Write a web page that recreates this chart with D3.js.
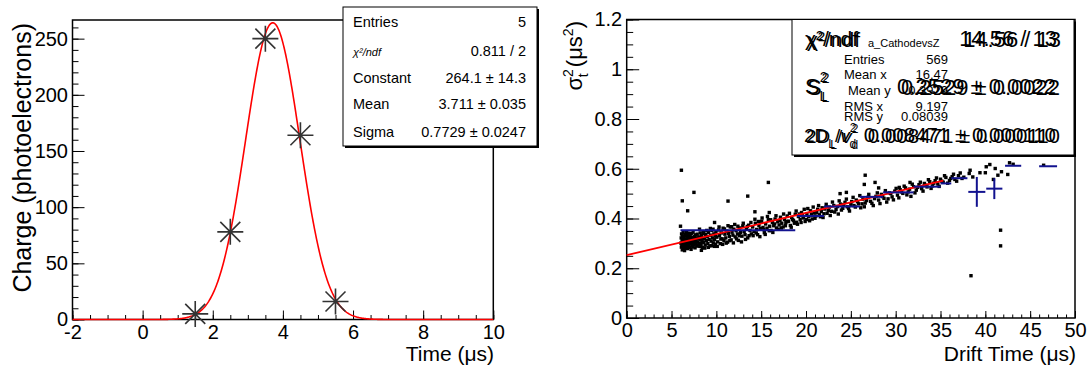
<!DOCTYPE html>
<html>
<head>
<meta charset="utf-8">
<script src="https://cdn.jsdelivr.net/npm/d3@7"></script>
<style>
  body { margin: 0; background: #fff; }
  svg { font-family: "Liberation Sans", Arial, Helvetica, sans-serif; }
</style>
</head>
<body>
<svg id="chart" width="1089" height="372"></svg>
<script>
// left pad: collected charge per time slice
var pulseTime = [1.5, 2.5, 3.5, 4.5, 5.5];
var pulseCharge = [5, 78, 250, 164, 16];
var gausConstant = 264.1, gausMean = 3.711, gausSigma = 0.7729;
var leftXTicks = [-2, 0, 2, 4, 6, 8, 10];
var leftYTicks = [0, 50, 100, 150, 200, 250];
var leftStatLabels = ['Entries', 'χ²/ndf', 'Constant', 'Mean', 'Sigma'];
var leftStatValues = ['5', '0.811 / 2', '264.1 ± 14.3', '3.711 ± 0.035', '0.7729 ± 0.0247'];

// right pad: width squared vs drift time
var driftPts = [
  [6.05,0.301],[6.08,0.322],[6.1,0.285],[6.12,0.338],[6.15,0.296],[6.18,0.312],[6.2,0.274],[6.22,0.329],
  [6.25,0.305],[6.28,0.291],[6.3,0.344],[6.32,0.318],[6.35,0.283],[6.38,0.299],[6.4,0.326],[6.42,0.309],
  [6.45,0.271],[6.48,0.335],[6.5,0.294],[6.52,0.316],[6.55,0.302],[6.58,0.281],[6.6,0.331],[6.62,0.311],
  [6.65,0.289],[6.68,0.347],[6.7,0.297],[6.72,0.321],[6.75,0.306],[6.78,0.279],[6.8,0.336],[6.82,0.314],
  [6.85,0.292],[6.88,0.325],[6.9,0.303],[6.92,0.287],[6.95,0.341],[6.98,0.308],
  [7.02,0.319],[7.05,0.284],[7.08,0.33],[7.1,0.298],[7.14,0.313],[7.18,0.276],[7.2,0.339],[7.24,0.305],
  [7.28,0.291],[7.3,0.323],[7.34,0.31],[7.38,0.286],[7.4,0.345],[7.44,0.301],[7.48,0.317],[7.5,0.295],
  [7.55,0.328],[7.58,0.307],[7.62,0.282],[7.66,0.334],[7.7,0.312],[7.74,0.298],[7.78,0.322],[7.82,0.289],
  [7.86,0.337],[7.9,0.306],[7.94,0.318],[7.98,0.293],
  [8.05,0.326],[8.1,0.301],[8.15,0.288],[8.2,0.342],[8.25,0.315],[8.3,0.296],[8.35,0.331],[8.4,0.308],
  [8.45,0.283],[8.5,0.32],[8.55,0.347],[8.6,0.304],[8.68,0.318],[8.75,0.293],[8.82,0.336],[8.9,0.311],
  [8.98,0.327],[9.05,0.299],[9.12,0.344],[9.2,0.316],[9.28,0.29],[9.35,0.333],[9.42,0.309],[9.5,0.352],
  [9.58,0.322],[9.65,0.302],[9.72,0.338],[9.8,0.315],[9.88,0.297],[9.95,0.346],
  [8.12,0.357],[8.33,0.272],[8.58,0.339],[8.71,0.281],[8.93,0.352],[9.1,0.284],[9.33,0.36],[9.47,0.291],
  [9.63,0.357],[9.77,0.288],[9.91,0.329],
  [10.05,0.325],[10.15,0.306],[10.25,0.354],[10.35,0.331],[10.45,0.299],[10.55,0.342],[10.65,0.318],
  [10.75,0.361],[10.85,0.311],[10.95,0.337],[11.05,0.322],[11.15,0.349],[11.25,0.305],[11.35,0.34],
  [11.45,0.328],[11.55,0.366],[11.65,0.314],[11.75,0.345],[11.85,0.333],[11.95,0.357],[12.1,0.326],
  [12.2,0.351],[12.35,0.338],[12.45,0.312],[12.6,0.362],[12.7,0.344],[12.85,0.329],[12.95,0.37],
  [13.1,0.348],[13.2,0.335],[13.35,0.359],[13.5,0.322],[13.6,0.373],[13.75,0.352],[13.9,0.338],
  [10.1,0.288],[10.3,0.366],[10.5,0.318],[10.7,0.296],[10.9,0.358],[11.1,0.301],[11.3,0.371],[11.5,0.311],
  [11.7,0.367],[11.9,0.302],[12.05,0.376],[12.25,0.318],[12.4,0.369],[12.55,0.331],[12.8,0.306],
  [13.0,0.381],[13.25,0.316],[13.45,0.368],[13.65,0.331],[13.85,0.384],
  [14.05,0.366],[14.2,0.347],[14.35,0.381],[14.5,0.356],[14.6,0.335],[14.75,0.372],[14.9,0.359],
  [15.05,0.389],[15.2,0.364],[15.35,0.343],[15.5,0.378],[15.65,0.361],[15.8,0.395],[15.95,0.369],
  [16.1,0.352],[16.25,0.384],[16.4,0.371],[16.55,0.398],[16.7,0.362],[16.85,0.387],[17.0,0.374],
  [17.15,0.405],[17.3,0.381],[17.45,0.366],[17.6,0.396],[17.75,0.383],[17.9,0.41],
  [14.1,0.331],[14.3,0.397],[14.45,0.342],[14.7,0.388],[14.85,0.327],[15.1,0.402],[15.3,0.356],
  [15.45,0.336],[15.7,0.408],[15.9,0.351],[16.05,0.395],[16.3,0.344],[16.5,0.378],[16.65,0.411],
  [16.9,0.357],[17.1,0.392],[17.25,0.362],[17.5,0.418],[17.7,0.371],[17.95,0.388],
  [18.05,0.389],[18.25,0.372],[18.4,0.404],[18.6,0.392],[18.8,0.417],[18.95,0.385],[19.15,0.408],
  [19.35,0.396],[19.5,0.424],[19.7,0.402],[19.9,0.388],[20.1,0.419],[20.3,0.407],[20.5,0.431],
  [20.7,0.398],[20.9,0.422],[21.1,0.41],[21.3,0.437],[21.5,0.415],[21.7,0.428],[21.9,0.404],
  [18.15,0.421],[18.35,0.365],[18.5,0.396],[18.7,0.381],[18.9,0.43],[19.05,0.377],[19.25,0.418],
  [19.45,0.384],[19.6,0.411],[19.8,0.437],[20.05,0.396],[20.2,0.44],[20.4,0.391],[20.6,0.417],
  [20.8,0.446],[21.0,0.401],[21.2,0.425],[21.4,0.452],[21.6,0.407],[21.8,0.443],
  [22.1,0.438],[22.35,0.421],[22.6,0.446],[22.85,0.429],[23.1,0.452],[23.35,0.436],[23.6,0.418],
  [23.85,0.458],[24.1,0.441],[24.35,0.465],[24.6,0.447],[24.85,0.43],[25.1,0.468],[25.35,0.452],
  [25.6,0.474],[25.85,0.459],
  [22.0,0.419],[22.25,0.457],[22.5,0.432],[22.7,0.412],[22.95,0.466],[23.2,0.426],[23.5,0.448],
  [23.7,0.471],[23.95,0.434],[24.2,0.455],[24.5,0.478],[24.75,0.44],[25.0,0.457],[25.25,0.485],
  [25.5,0.446],[25.75,0.468],
  [26.1,0.443],[26.35,0.478],[26.6,0.462],[26.9,0.485],[27.2,0.469],[27.5,0.452],[27.8,0.489],
  [28.1,0.474],[28.4,0.497],[28.7,0.481],[29.0,0.466],[29.3,0.503],[29.6,0.487],[29.9,0.51],
  [26.0,0.492],[26.25,0.459],[26.5,0.447],[26.75,0.472],[27.0,0.497],[27.35,0.461],[27.65,0.48],
  [27.95,0.503],[28.25,0.46],[28.55,0.488],[28.85,0.512],[29.15,0.479],[29.45,0.5],[29.75,0.475],
  [30.2,0.494],[30.5,0.516],[30.8,0.501],[31.1,0.523],[31.4,0.507],[31.7,0.489],[32.0,0.528],
  [32.3,0.514],[32.6,0.536],[32.9,0.52],[33.2,0.541],[33.5,0.527],[33.8,0.548],[34.1,0.531],
  [34.4,0.552],[34.7,0.539],
  [30.05,0.521],[30.35,0.483],[30.65,0.507],[30.95,0.53],[31.25,0.495],[31.55,0.518],[31.85,0.538],
  [32.15,0.503],[32.45,0.525],[32.75,0.546],[33.05,0.51],[33.35,0.534],[33.65,0.556],[33.95,0.521],
  [34.25,0.542],[34.55,0.563],[34.85,0.529],
  [35.0,0.558],[35.3,0.546],[35.6,0.565],[36.0,0.553],[36.3,0.568],[36.6,0.557],[37.0,0.572],[37.4,0.561],
  [35.15,0.55],[35.45,0.572],[35.8,0.542],[36.15,0.561],[36.45,0.578],[36.8,0.55],[37.2,0.583],[37.6,0.566],
  // off-band hits
  [6.1,0.594],[6.2,0.471],[7.5,0.505],[6.8,0.431],[6.0,0.369],[11.3,0.47],[13.5,0.49],[15.8,0.545],
  [14.3,0.427],[15.9,0.424],[9.8,0.384],[23.8,0.5],[24.5,0.505],[26.6,0.574],[26.5,0.537],[27.7,0.545],
  [28.1,0.523],[30.4,0.525],[31.6,0.545],[38.3,0.594],[38.2,0.581],[38.6,0.567],[39.4,0.584],[40.0,0.584],
  [40.1,0.608],[40.5,0.617],[41.1,0.601],[41.4,0.574],[40.9,0.557],[41.8,0.588],[42.5,0.577],[42.7,0.624],
  [43.1,0.618],[46.5,0.614],[41.7,0.353],[41.7,0.29],[38.4,0.17]
];
// profile bins: [xlow, xhigh, mean, error]
var profileBins = [
  [6, 18.8, 0.353, 0], [19, 22, 0.41, 0], [22, 26, 0.448, 0], [26, 28.6, 0.487, 0],
  [28.6, 32, 0.505, 0], [32, 35, 0.528, 0], [35, 36.2, 0.541, 0], [36.2, 38, 0.562, 0],
  [38.1, 40, 0.507, 0.06], [40.1, 41.9, 0.52, 0.042], [42.2, 44, 0.612, 0], [46, 48, 0.61, 0]
];
var lineIntercept = 0.2529, lineSlope = 0.008471;
var rightXTicks = [0, 5, 10, 15, 20, 25, 30, 35, 40, 45, 50];
var rightYTicks = [0, 0.2, 0.4, 0.6, 0.8, 1, 1.2];
var histStatLabels = ['Entries', 'Mean x', 'Mean y', 'RMS x', 'RMS y'];
var histStatValues = ['569', '16.47', '0.3929', '9.197', '0.08039'];

var svg = d3.select('#chart');

var xL = d3.scaleLinear().domain([-2, 10]).range([72.5, 493.3]);
var yL = d3.scaleLinear().domain([0, 266.6]).range([319.5, 20]);
var xR = d3.scaleLinear().domain([0, 50]).range([626.7, 1075]);
var yR = d3.scaleLinear().domain([0, 1.2]).range([318, 19.5]);

function drawAxes(x, y, xMajor, xMinor, yMajor, yMinor, len) {
  var yb = y.range()[0], xl = x.range()[0];
  var plain = function(d) { return String(d); };
  var strip = function(g) {
    g.select('.domain').remove();
    g.attr('font-family', null).attr('font-size', 20);
    g.selectAll('text').attr('fill', '#000');
  };
  svg.append('g').attr('transform', 'translate(0,' + yb + ')')
    .call(d3.axisBottom(x).tickValues(xMinor).tickSize(-len[1]).tickFormat(''))
    .call(strip);
  svg.append('g').attr('transform', 'translate(0,' + yb + ')')
    .call(d3.axisBottom(x).tickValues(xMajor).tickSize(-len[0]).tickPadding(5).tickFormat(plain))
    .call(strip);
  svg.append('g').attr('transform', 'translate(' + xl + ',0)')
    .call(d3.axisLeft(y).tickValues(yMinor).tickSize(-len[3]).tickFormat(''))
    .call(strip);
  svg.append('g').attr('transform', 'translate(' + xl + ',0)')
    .call(d3.axisLeft(y).tickValues(yMajor).tickSize(-len[2]).tickPadding(4.5).tickFormat(plain))
    .call(strip);
  svg.append('rect')
    .attr('x', xl).attr('y', y.range()[1])
    .attr('width', x.range()[1] - xl).attr('height', yb - y.range()[1])
    .attr('fill', 'none').attr('stroke', '#000').attr('stroke-width', 1.5);
}

function statBox(x0, y0, x1, y1) {
  svg.append('rect').attr('x', x0 + 2).attr('y', y0 + 2).attr('width', x1 - x0).attr('height', y1 - y0)
    .attr('fill', '#000');
  svg.append('rect').attr('x', x0).attr('y', y0).attr('width', x1 - x0).attr('height', y1 - y0)
    .attr('fill', '#fff').attr('stroke', '#000').attr('stroke-width', 1);
}

// ---------- left pad ----------
drawAxes(xL, yL, leftXTicks, d3.range(-2, 10.01, 0.5), leftYTicks, d3.range(0, 266, 10), [9, 4.5, 12, 6]);

var gausLine = d3.line().x(function(d) { return xL(d); })
  .y(function(d) { return yL(gausConstant * Math.exp(-0.5 * Math.pow((d - gausMean) / gausSigma, 2))); });
svg.append('path').datum(d3.range(-2, 10.001, 0.02))
  .attr('fill', 'none').attr('stroke', '#f00').attr('stroke-width', 1.6).attr('d', gausLine);

svg.append('g').selectAll('path').data(pulseTime).join('path')
  .attr('transform', function(d, i) { return 'translate(' + xL(d) + ',' + yL(pulseCharge[i]) + ')'; })
  .attr('d', 'M-13,0H13M0,-13V13M-10,-10L10,10M-10,10L10,-10')
  .attr('stroke', '#333').attr('stroke-width', 1.6).attr('fill', 'none');

svg.append('text').attr('x', 494).attr('y', 361).attr('text-anchor', 'end')
  .attr('font-size', 21).text('Time (μs)');
svg.append('text').attr('transform', 'translate(31,23) rotate(-90)').attr('text-anchor', 'end')
  .attr('font-size', 25).text('Charge (photoelectrons)');

statBox(343, 7, 537, 146);
var lrows = [27.3, 55.5, 82.7, 109.3, 136.7];
svg.append('g').selectAll('text').data(leftStatLabels).join('text')
  .attr('x', 353).attr('y', function(d, i) { return lrows[i]; })
  .attr('font-size', function(d, i) { return i === 1 ? 11 : 14.5; })
  .attr('font-style', function(d, i) { return i === 1 ? 'italic' : null; })
  .text(function(d) { return d; });
svg.append('g').selectAll('text').data(leftStatValues).join('text')
  .attr('x', 526).attr('y', function(d, i) { return lrows[i]; })
  .attr('text-anchor', 'end').attr('font-size', 14.5)
  .text(function(d) { return d; });

// ---------- right pad ----------
drawAxes(xR, yR, rightXTicks, d3.range(0, 50.01, 1), rightYTicks, d3.range(0, 1.201, 0.05), [7, 3.5, 12.5, 6.5]);

svg.append('g').selectAll('rect').data(driftPts).join('rect')
  .attr('x', function(d) { return xR(d[0]) - 1.7; })
  .attr('y', function(d) { return yR(d[1]) - 1.7; })
  .attr('width', 3.4).attr('height', 3.4).attr('fill', '#000');

svg.append('path').datum([0, 35.3])
  .attr('fill', 'none').attr('stroke', '#f00').attr('stroke-width', 1.8)
  .attr('d', d3.line().x(function(d) { return xR(d); })
    .y(function(d) { return yR(lineIntercept + lineSlope * d); }));

var prof = svg.append('g').attr('stroke', '#12128f').attr('stroke-width', 2);
prof.selectAll('line.h').data(profileBins).join('line').attr('class', 'h')
  .attr('x1', function(d) { return xR(d[0]); }).attr('x2', function(d) { return xR(d[1]); })
  .attr('y1', function(d) { return yR(d[2]); }).attr('y2', function(d) { return yR(d[2]); });
prof.selectAll('line.v').data(profileBins.filter(function(d) { return d[3] > 0; })).join('line').attr('class', 'v')
  .attr('x1', function(d) { return xR((d[0] + d[1]) / 2); }).attr('x2', function(d) { return xR((d[0] + d[1]) / 2); })
  .attr('y1', function(d) { return yR(d[2] - d[3]); }).attr('y2', function(d) { return yR(d[2] + d[3]); });

svg.append('text').attr('x', 1076).attr('y', 361).attr('text-anchor', 'end')
  .attr('font-size', 21).text('Drift Time (μs)');
var yt = svg.append('text').attr('transform', 'translate(582,21) rotate(-90)')
  .attr('text-anchor', 'end').attr('font-size', 22);
yt.append('tspan').text('σ');
yt.append('tspan').attr('dy', -9).attr('font-size', 14).text('2');
yt.append('tspan').attr('dx', -8).attr('dy', 15).attr('font-size', 14).text('t');
yt.append('tspan').attr('dy', -6).text(' (μs');
yt.append('tspan').attr('dy', -9).attr('font-size', 14).text('2');
yt.append('tspan').attr('dy', 9).text(')');

statBox(792, 19.5, 1074, 155);

// histogram stats (small) and fit stats (large), overlapping as in the source
svg.append('text').attr('x', 868).attr('y', 47).attr('font-size', 11).text('a_CathodevsZ');
var hrows = [63.5, 79, 94.5, 110.5, 121];
var hx = [844, 844, 848, 844, 844];
svg.append('g').selectAll('text').data(histStatLabels).join('text')
  .attr('x', function(d, i) { return hx[i]; }).attr('y', function(d, i) { return hrows[i]; })
  .attr('font-size', 13).text(function(d) { return d; });
svg.append('g').selectAll('text').data(histStatValues).join('text')
  .attr('x', 948).attr('y', function(d, i) { return hrows[i]; })
  .attr('text-anchor', 'end').attr('font-size', 13).text(function(d) { return d; });

[0, 1].forEach(function(k) {
  var dx = k * 4, dy = k * 1;
  svg.append('text').attr('x', 805 + k * 2).attr('y', 46 + dy).attr('font-size', 21).text('χ²/ndf');
  svg.append('text').attr('x', 1057 + dx).attr('y', 46 + dy).attr('text-anchor', 'end')
    .attr('font-size', 22).text('14.56 / 13');

  var s = svg.append('text').attr('x', 805 + k * 2).attr('y', 94 + dy).attr('font-size', 22);
  s.append('tspan').text('S');
  s.append('tspan').attr('dy', -12).attr('font-size', 14).text('2');
  s.append('tspan').attr('dx', -8).attr('dy', 19).attr('font-size', 14).text('L');
  svg.append('text').attr('x', 1056 + dx).attr('y', 94 + dy).attr('text-anchor', 'end')
    .attr('font-size', 22).text('0.2529 ± 0.0022');

  var d = svg.append('text').attr('x', 804 + k * 2).attr('y', 142 + dy).attr('font-size', 19);
  d.append('tspan').text('2D');
  d.append('tspan').attr('dy', 6).attr('font-size', 12).text('L');
  d.append('tspan').attr('dy', -6).text('/');
  d.append('tspan').attr('font-style', 'italic').text('v');
  d.append('tspan').attr('dy', -10).attr('font-size', 12).text('2');
  d.append('tspan').attr('dx', -7).attr('dy', 16).attr('font-size', 12).text('d');
  svg.append('text').attr('x', 1056 + dx).attr('y', 142 + dy).attr('text-anchor', 'end')
    .attr('font-size', 20.5).text('0.008471 ± 0.000110');
});
</script>
</body>
</html>
